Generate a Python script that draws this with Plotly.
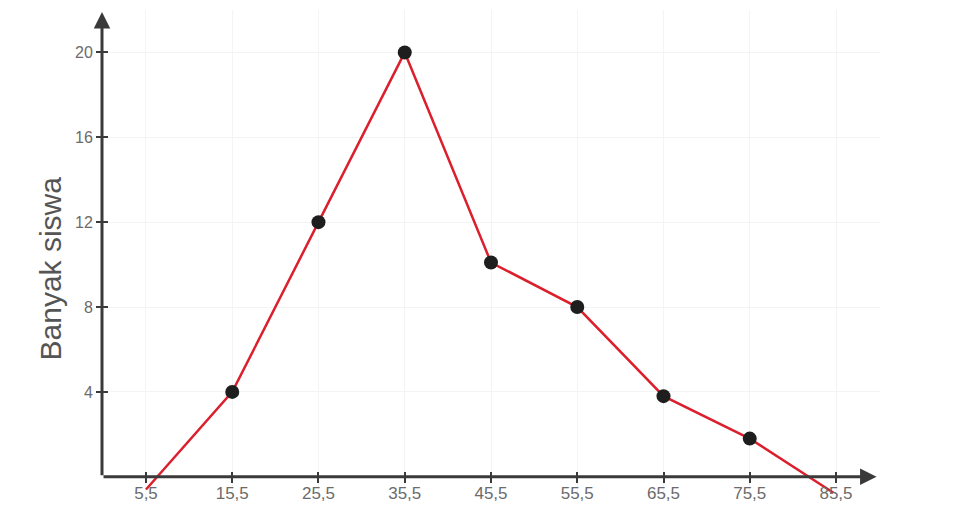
import plotly.graph_objects as go

# Data (frequency polygon)
nilai_tengah = [5.5, 15.5, 25.5, 35.5, 45.5, 55.5, 65.5, 75.5, 85.2]
banyak_siswa = [-0.6, 4, 12, 20, 10.1, 8, 3.8, 1.8, -0.75]
marker_x = [15.5, 25.5, 35.5, 45.5, 55.5, 65.5, 75.5]
marker_y = [4, 12, 20, 10.1, 8, 3.8, 1.8]

x_tick_vals = [5.5, 15.5, 25.5, 35.5, 45.5, 55.5, 65.5, 75.5, 85.5]
x_tick_text = ["5,5", "15,5", "25,5", "35,5", "45,5", "55,5", "65,5", "75,5", "85,5"]
y_tick_vals = [4, 8, 12, 16, 20]
y_tick_text = ["4", "8", "12", "16", "20"]

X0, X1 = 0.4, 90.6
Y0, Y1 = -1.0, 22.0
ZERO_POS = (0 - Y0) / (Y1 - Y0)

fig = go.Figure()
fig.add_trace(go.Scatter(
    x=nilai_tengah, y=banyak_siswa, mode="lines",
    line=dict(color="#dc1f2c", width=2.5), hoverinfo="skip", showlegend=False,
))
fig.add_trace(go.Scatter(
    x=marker_x, y=marker_y, mode="markers",
    marker=dict(color="#1e1e1e", size=14), cliponaxis=False, showlegend=False,
))
# invisible trace to host the inner tick axes
fig.add_trace(go.Scatter(x=[X0], y=[Y0], xaxis="x2", yaxis="y2", mode="markers",
                         marker=dict(opacity=0), hoverinfo="skip", showlegend=False))

axis_color = "#3a3a3a"
# axes with arrowheads
fig.add_annotation(x=90.2, y=0, ax=X0, ay=0, xref="x", yref="y", axref="x", ayref="y",
                   text="", showarrow=True, arrowhead=2, arrowsize=1.1, arrowwidth=3,
                   arrowcolor=axis_color)
fig.add_annotation(x=X0, y=21.9, ax=X0, ay=0, xref="x", yref="y", axref="x", ayref="y",
                   text="", showarrow=True, arrowhead=2, arrowsize=1.1, arrowwidth=3,
                   arrowcolor=axis_color)

fig.add_annotation(x=-0.066, y=9.8, xref="paper", yref="y", text="Banyak siswa",
                   textangle=-90, showarrow=False, xanchor="center", yanchor="middle",
                   font=dict(size=30, color="#555555", family="Liberation Sans, Arial"))

# page body adds an 8px offset; margins compensate for it
fig.update_layout(
    width=961, height=520,
    margin=dict(l=94, r=89, t=1.5, b=29.75, autoexpand=False),
    plot_bgcolor="white", paper_bgcolor="white",
    font=dict(family="Liberation Sans, Arial", color="#6b6b6b", size=17),
    xaxis=dict(range=[X0, X1], tickvals=x_tick_vals, ticktext=x_tick_text,
               showline=False, zeroline=False, showgrid=True, gridcolor="#f4f4f4",
               ticks="outside", ticklen=5, tickwidth=2, tickcolor=axis_color,
               tickfont=dict(color="#6b6b6b", size=17), ticklabelstandoff=-4,
               anchor="free", position=ZERO_POS, fixedrange=True,
               automargin=False),
    yaxis=dict(range=[Y0, Y1], tickvals=y_tick_vals, ticktext=y_tick_text,
               showline=False, zeroline=False, showgrid=True, gridcolor="#f4f4f4",
               ticks="outside", ticklen=5, tickwidth=2, tickcolor=axis_color,
               tickfont=dict(color="#6b6b6b", size=16),
               fixedrange=True, automargin=False),
    xaxis2=dict(range=[X0, X1], tickvals=x_tick_vals, showticklabels=False,
                overlaying="x", showline=False, zeroline=False, showgrid=False,
                ticks="inside", ticklen=5, tickwidth=2, tickcolor=axis_color,
                anchor="free", position=ZERO_POS, fixedrange=True, automargin=False),
    yaxis2=dict(range=[Y0, Y1], tickvals=y_tick_vals, showticklabels=False,
                overlaying="y", side="left", showline=False, zeroline=False,
                showgrid=False, ticks="inside", ticklen=5, tickwidth=2,
                tickcolor=axis_color, anchor="free", position=0,
                fixedrange=True, automargin=False),
)

fig.write_html("out.html")
